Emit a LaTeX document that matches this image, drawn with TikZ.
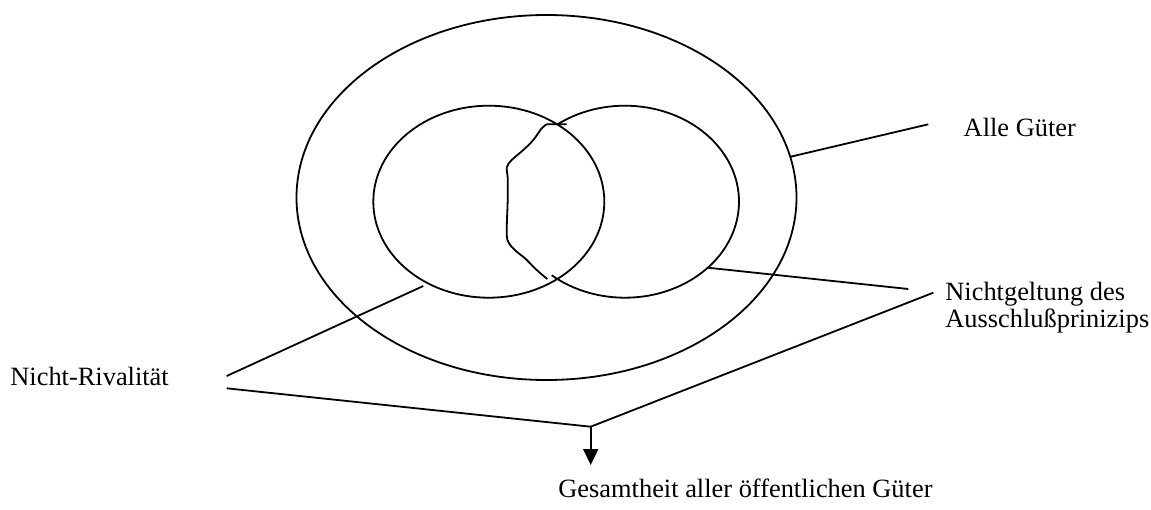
\documentclass[tikz,border=0pt]{standalone}
\usepackage{fontspec}
\setmainfont{Liberation Serif}
\usetikzlibrary{shapes.geometric,arrows.meta}
\begin{document}
\begin{tikzpicture}[x=0.5pt,y=-0.5pt,
  ln/.style={line width=0.9pt,black},
  ell/.style={ellipse,draw,line width=0.9pt,inner sep=0pt},
  lbl/.style={anchor=base west,inner sep=0pt,font=\fontsize{13.2}{14}\selectfont}]
\useasboundingbox (0,0) rectangle (1151,509);
% sets
\node[ell,minimum width=250pt,minimum height=182.5pt] (outer) at (546.5,197.5) {};
\node[ell,minimum width=115.5pt,minimum height=96pt] (left) at (488.8,201.7) {};
% right set: only its part outside the left set
\coordinate (rc) at (625,201.7);
\draw[ln] (rc) ++(-126.5:114 and 96) arc[start angle=-126.5, end angle=130, x radius=114, y radius=96];
% boundary line in the intersection
\draw[ln,line join=round] (566.7,124.3) -- (546.7,124.3)
  plot[smooth,tension=0.55] coordinates {(546.7,124.3) (541.7,128.3) (533.3,140) (523.3,150) (511.7,160) (506.7,167.5) (507.7,178) (507.7,200) (506.7,233.3) (509,243.3) (516.7,251.7) (525,258.3) (536.7,270) (547.3,279)};
% labels
\node[lbl] (alle) at (963.3,136.7) {Alle Güter};
\node[lbl] (nicht1) at (945,300) {Nichtgeltung des};
\node[lbl] (nicht2) at (945,327.5) {Ausschlußprinizips};
\node[lbl] (rival) at (10,385.5) {Nicht-Rivalität};
\node[lbl] (gesamt) at (558,497.5) {Gesamtheit aller öffentlichen Güter};
% connector points
\coordinate (a1) at (790.7,156.7);
\coordinate (a2) at (928.3,124.3);
\coordinate (b1) at (707.7,267.7);
\coordinate (b2) at (908.3,289);
\coordinate (c1) at (933.3,292.7);
\coordinate (j) at (590.7,426.7);
\coordinate (jend) at (590.7,465);
\coordinate (d1) at (423.3,286);
\coordinate (d2) at (226.7,376);
\coordinate (e1) at (226.7,388.3);
% connectors
\draw[ln] (a1) -- (a2);
\draw[ln] (b1) -- (b2);
\draw[ln] (d1) -- (d2);
\draw[ln,line join=miter] (e1) -- (j) -- (c1);
\draw[line width=0.9pt,-{Triangle[width=7.5pt,length=8pt]}] (j) -- (jend);
\end{tikzpicture}
\end{document}
